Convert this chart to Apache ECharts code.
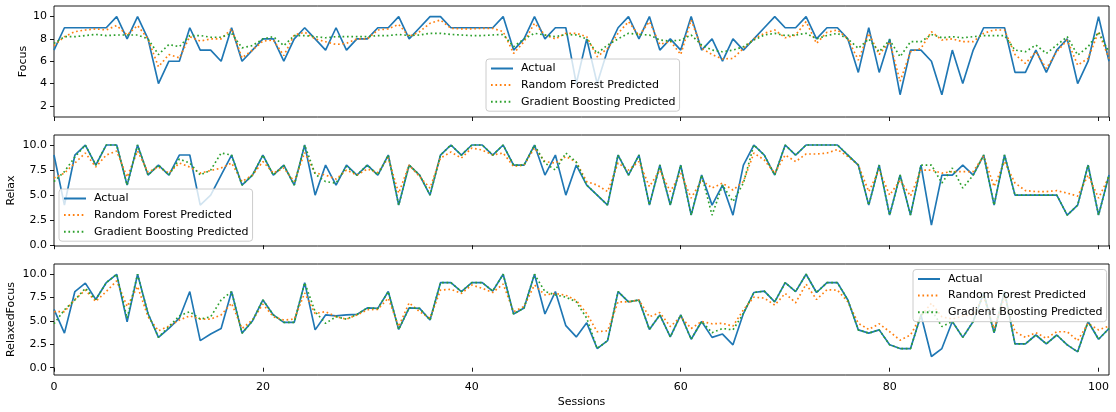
<!DOCTYPE html>
<html><head><meta charset="utf-8">
<script src="https://cdn.jsdelivr.net/npm/echarts@6/dist/echarts.min.js"></script>
<style>html,body{margin:0;padding:0;background:#fff}#c{width:1116px;height:412px}</style>
</head><body><div id="c"></div><script>
// ---- data ----
const seriesNames = ['Actual', 'Random Forest Predicted', 'Gradient Boosting Predicted'];
const panelNames = ['Focus', 'Relax', 'RelaxedFocus'];
const xLabel = 'Sessions';
const focusTicks = [2, 4, 6, 8, 10];
const relaxTicks = [0, 2.5, 5, 7.5, 10];
const relaxedFocusTicks = [0, 2.5, 5, 7.5, 10];

const focusActual = [7,9,9,9,9,9,10,8,10,8, 4,6,6,9,7,7,6,9,6,7, 8,8,6,8,9,8,7,9,7,8, 8,9,9,10,8,9,10,10,9,9,
  9,9,9,10,7,8,10,8,9,9, 4,8,4,7,9,10,8,10,7,8, 7,10,7,8,6,8,7,8,9,10, 9,9,10,8,9,9,8,5,9,5,
  8,3,7,7,6,3,7,4,7,9, 9,9,5,5,7,5,7,8,4,6, 10,6];
const focusRF = [7.4,8.2,8.65,8.8,8.9,8.8,9.2,8.35,9.2,8.0, 5.5,6.6,6.3,8.2,7.8,8.0,8.0,8.9,6.3,7.0,
  7.8,7.9,6.5,8.35,8.6,8.0,7.75,7.5,7.6,8.0, 8.0,8.8,8.9,9.3,8.2,8.65,9.4,9.7,8.95,8.9,
  8.9,8.95,8.95,8.65,6.7,7.75,9.4,8.35,8.0,8.5, 8.5,8.2,6.4,7.15,8.5,9.55,8.3,9.55,7.5,7.8,
  6.6,9.7,7.15,6.6,6.2,6.25,7.15,8.0,8.5,8.8, 8.1,8.35,9.55,7.6,8.6,8.8,8.0,6.1,8.5,6.6,
  7.75,4.2,6.85,7.15,8.65,7.9,8.0,7.75,7.75,8.5, 8.8,8.8,6.6,5.8,6.85,5.35,6.85,7.9,5.65,6.25, 8.65,6.25];
const focusGB = [7.6,8.2,8.2,8.3,8.4,8.3,8.35,8.35,8.35,8.0, 6.6,7.5,7.3,8.3,8.3,8.15,8.15,8.5,7.2,7.4,
  8.0,8.2,7.4,8.3,8.3,8.2,8.1,8.2,8.2,8.2, 8.2,8.3,8.3,8.4,8.3,8.35,8.5,8.5,8.4,8.35,
  8.3,8.3,8.35,8.4,7.3,8.0,8.5,8.35,8.2,8.4, 8.35,8.0,6.7,7.45,8.0,8.5,8.4,8.35,7.9,7.8,
  7.9,8.35,7.45,7.0,6.85,7.0,7.3,7.9,8.35,8.5, 8.3,8.35,8.5,8.0,8.3,8.5,8.0,7.15,8.0,6.85,
  7.9,6.4,7.75,7.75,8.4,8.1,8.2,8.1,8.2,8.3, 8.3,8.3,7.0,6.85,7.45,6.7,7.45,8.2,6.55,7.3, 8.6,6.85];

const relaxActual = [9,4,9,10,8,10,10,6,10,7, 8,7,9,9,4,5,7,9,6,7, 9,7,8,6,10,5,8,6,8,7, 8,7,9,4,8,7,5,9,10,9,
  10,10,9,10,8,8,10,7,9,5, 8,6,5,4,9,7,9,4,8,4, 8,3,7,4,6,3,8,10,9,7, 10,9,10,10,10,10,9,8,4,8,
  3,7,3,8,2,7,7,8,7,9, 4,9,5,5,5,5,5,3,4,8, 3,7];
const relaxRF = [6.7,7.2,8.2,9.2,7.8,9.0,9.4,6.8,9.4,7.3, 7.8,7.2,8.2,7.8,7.2,7.45,7.7,8.2,6.35,7.0,
  8.35,7.2,7.7,6.35,9.25,7.2,7.0,6.6,7.5,7.0, 7.6,7.25,8.7,5.2,8.0,6.85,5.7,8.7,9.3,8.7,
  9.7,9.5,9.0,9.2,7.85,8.0,9.7,8.35,8.2,8.85, 8.3,6.35,6.0,5.35,8.2,7.5,8.35,5.85,7.5,5.35,
  7.2,4.7,6.5,5.7,6.2,5.5,6.35,9.2,8.5,7.2, 9.0,8.35,9.1,9.1,9.2,9.55,8.85,8.0,5.35,7.5,
  5.0,6.5,4.9,7.5,7.5,7.2,7.35,7.35,7.35,8.9, 5.85,8.35,6.2,5.45,5.35,5.35,5.45,5.2,4.9,7.0, 4.7,6.85];
const relaxGB = [6.35,7.35,8.8,10,8,10,10,6,10,7, 8,7,8.6,8.2,7,7.5,9.2,9,6,7, 9,7,8,6,10,7.1,6.35,6.2,7.85,7,
  8,7,9,4,8,7,5,9,10,9, 10,10,9,10,8,8,10,8.2,7.5,9.2, 8.3,6,5,4,9,7,9,4,8,4,
  8,3,7,3,6,4.35,6.2,10,9,7, 10,9,10,10,10,10,9,8,4,8, 3,7,3,8,8,6.2,7.7,5.7,7,9,
  4,9,5,5,5,5,5,3,4,8, 3,7];

const relaxedFocusActual = [6.25,3.7,8.15,9.05,7.3,9.1,10,4.9,10,5.8, 3.25,4.2,5.3,8.15,2.9,3.6,4.2,8.15,3.7,5.0,
  7.25,5.65,4.85,4.85,9.1,4.05,5.65,5.55,5.65,5.7, 6.4,6.35,8.15,4.1,6.4,6.35,5.1,9.1,9.1,8.15,
  9.1,9.1,8.2,10,5.75,6.4,10,5.75,8.15,4.5, 3.3,4.8,2.05,2.9,8.15,7.05,7.25,4.1,5.65,3.3,
  5.65,3.05,4.95,3.25,3.6,2.45,5.8,8.05,8.2,7.05, 9.1,8.15,10,8.05,9.1,9.1,7.25,4.05,3.7,4.05,
  2.45,2.05,2.05,5.65,1.2,2.05,4.95,3.25,4.95,8.0, 3.75,8.15,2.55,2.55,3.5,2.55,3.5,2.45,1.7,4.95, 3.05,4.2];
const relaxedFocusRF = [6.0,6.0,7.3,8.3,7.1,8.15,9.3,6.55,8.7,5.45, 3.95,4.45,5.1,5.55,5.2,5.2,5.65,6.9,4.2,5.1,
  6.8,5.45,5.1,5.2,8.0,5.8,6.0,5.45,5.2,5.65, 6.2,6.25,7.45,4.4,6.95,6.0,5.3,8.3,8.4,7.95,
  8.85,8.5,8.05,8.95,6.0,6.55,8.85,7.8,7.95,7.75, 7.2,5.8,3.85,3.95,7.05,7.05,7.25,5.45,5.9,4.4,
  5.45,4.2,4.95,4.7,4.75,4.45,6.2,7.55,7.45,6.7, 7.95,6.95,8.95,7.3,8.35,8.3,7.05,4.75,4.1,4.7,
  3.85,2.95,3.5,5.55,6.9,5.45,5.2,5.55,5.65,7.6, 4.2,7.6,3.85,3.25,3.75,3.15,3.85,3.85,2.9,4.75, 4.05,4.45];
const relaxedFocusGB = [4.7,6.2,7.25,8.5,7.3,9.1,10,5.3,10,5.8, 3.25,4.4,5.55,6.0,5.2,5.45,7.25,8.15,3.7,5.0,
  7.25,5.65,4.85,4.85,9.1,6.0,4.75,5.45,5.2,5.7, 6.4,6.35,8.15,4.1,6.4,6.35,5.1,9.1,9.1,8.15,
  9.1,9.1,8.2,10,5.75,6.4,10,8.15,7.8,7.55, 7.05,5.3,2.05,2.9,8.15,7.05,7.25,4.1,5.65,3.3,
  5.65,3.05,4.95,3.75,4.2,4.05,5.8,8.05,8.2,7.05, 9.1,8.15,10,8.05,9.1,9.1,7.25,4.05,3.7,4.05,
  2.45,2.05,2.05,5.65,6.2,4.4,4.95,3.25,4.95,8.0, 3.75,8.15,2.55,2.55,3.5,2.55,3.5,2.45,1.7,4.95, 3.05,4.2];

// ---- chart ----
const FONT = 'DejaVu Sans';
const colors = ['#1f77b4', '#ff7f0e', '#2ca02c'];
const lw = 1.67;
const panels = [
  {name: panelNames[0], data: [focusActual, focusRF, focusGB], ticks: focusTicks, min: 1.0, max: 10.95, fmt: v => String(v), top: 6, nameGap: 25, legend: {left: 486, top: 59}},
  {name: panelNames[1], data: [relaxActual, relaxRF, relaxGB], ticks: relaxTicks, min: -0.08, max: 11.0, fmt: v => v.toFixed(1), top: 135, nameGap: 37, legend: {left: 59, top: 189}},
  {name: panelNames[2], data: [relaxedFocusActual, relaxedFocusRF, relaxedFocusGB], ticks: relaxedFocusTicks, min: -0.78, max: 11.1, fmt: v => v.toFixed(1), top: 264, nameGap: 37, legend: {left: 913, top: 269.5}}
];

const grid = [], xAxis = [], yAxis = [], series = [], legend = [];
panels.forEach((p, gi) => {
  grid.push({left: 54, top: p.top, width: 1055, height: 111, show: true, borderColor: '#000', borderWidth: 0.9, backgroundColor: 'transparent', outerBoundsMode: 'none', containLabel: false});
  xAxis.push({
    type: 'value', gridIndex: gi, min: 0, max: 101, interval: 20,
    axisLine: {show: false}, splitLine: {show: false},
    axisTick: {show: true, length: 4, lineStyle: {color: '#000', width: 0.9}},
    axisLabel: {show: gi === 2, margin: 7, fontFamily: FONT, fontSize: 11, color: '#000',
      showMinLabel: true, showMaxLabel: false},
    name: gi === 2 ? xLabel : '', nameLocation: 'middle', nameGap: 22, nameMoveOverlap: false,
    nameTextStyle: {fontFamily: FONT, fontSize: 11, color: '#000'}
  });
  yAxis.push({
    type: 'value', gridIndex: gi, min: p.min, max: p.max,
    axisLine: {show: false}, splitLine: {show: false},
    axisTick: {show: true, length: 4, lineStyle: {color: '#000', width: 0.9}, customValues: p.ticks},
    axisLabel: {margin: 7, fontFamily: FONT, fontSize: 11, color: '#000', customValues: p.ticks, formatter: p.fmt},
    name: p.name, nameLocation: 'middle', nameRotate: 90, nameGap: p.nameGap, nameMoveOverlap: false,
    nameTextStyle: {fontFamily: FONT, fontSize: 11, color: '#000'}
  });
  p.data.forEach((arr, si) => {
    series.push({
      type: 'line', name: seriesNames[si], xAxisIndex: gi, yAxisIndex: gi,
      data: arr.map((v, i) => [i, v]),
      symbol: 'none', showSymbol: false, smooth: false, clip: true,
      lineStyle: {color: colors[si], width: lw, type: si === 0 ? 'solid' : [1.67, 2.75], cap: 'butt'},
      itemStyle: {color: colors[si]},
      z: 2 + si, animation: false
    });
  });
  legend.push({
    orient: 'vertical', left: p.legend.left, top: p.legend.top,
    data: seriesNames.map((n) => ({name: n})),
    itemWidth: 22, itemHeight: 11, itemGap: 5.6,
    padding: [4, 4, 4, 4],
    itemStyle: {opacity: 0, borderWidth: 0},
    backgroundColor: 'rgba(255,255,255,0.8)', borderColor: '#cccccc', borderWidth: 1, borderRadius: 3,
    textStyle: {fontFamily: FONT, fontSize: 11, color: '#000', lineHeight: 11, padding: [0, 0, 0, 3]},
    selectedMode: false, z: 10
  });
});

const chart = echarts.init(document.getElementById('c'), null, {renderer: 'canvas'});
chart.setOption({animation: false, backgroundColor: '#fff', grid, xAxis, yAxis, series, legend});
</script></body></html>
